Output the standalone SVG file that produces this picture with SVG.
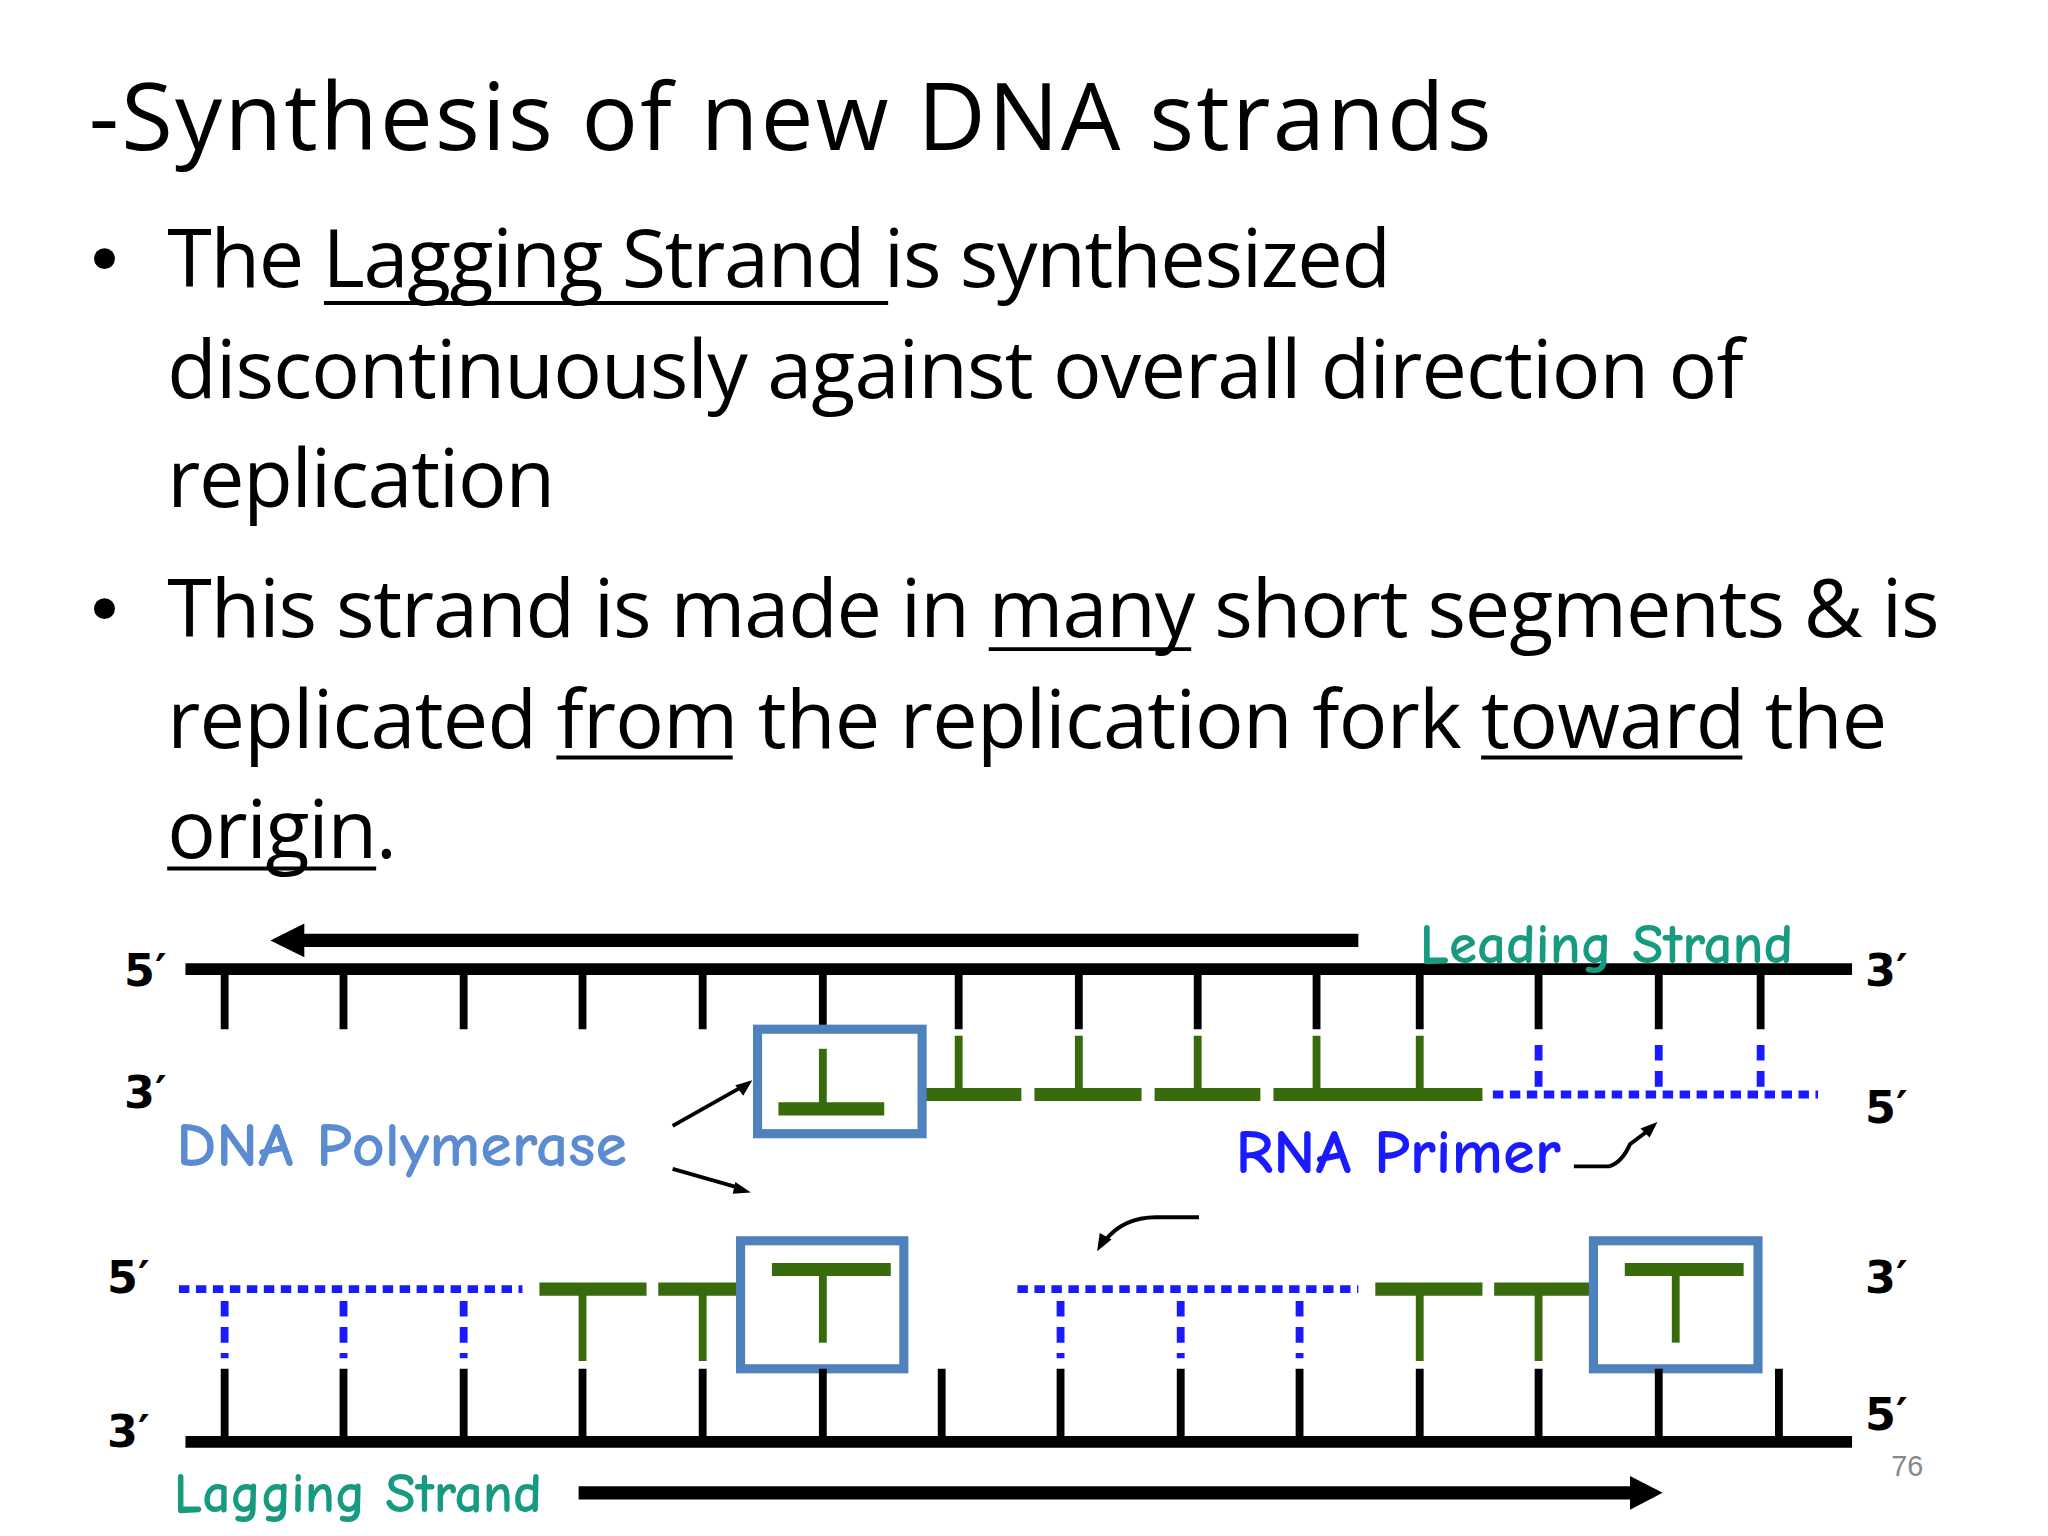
<svg xmlns="http://www.w3.org/2000/svg" width="2048" height="1536" viewBox="0 0 2048 1536">
<style>
.t{font-family:"Open Sans","Liberation Sans",sans-serif;fill:#000}
.c{font-family:"Comic Neue","DejaVu Sans",sans-serif;font-weight:bold}
.lab{font-family:"DejaVu Sans",sans-serif;font-weight:bold;font-size:34px}
.k{stroke:#000;stroke-width:6}
.g{stroke:#386b0b;stroke-width:6}
.gb{stroke:#386b0b;stroke-width:10}
.bd{stroke:#1a1aff;stroke-width:6;stroke-dasharray:8 5}
.bv{stroke:#1a1aff;stroke-width:6;stroke-dasharray:12 8}
.box{fill:#fff;stroke:#4f81bd;stroke-width:7}
.ul{stroke:#000;stroke-width:3}
</style>
<rect width="2048" height="1536" fill="#fff"/>
<g transform="scale(1.3061)">
<g id="text">
<text class="t" x="68" y="115" font-size="72" textLength="1074">-Synthesis of new DNA strands</text>
<circle cx="80" cy="198" r="8"/><circle cx="80" cy="466" r="8"/>
<g font-size="62">
<text class="t" x="128" y="220" textLength="937">The Lagging Strand is synthesized</text>
<text class="t" x="128" y="305" textLength="1207">discontinuously against overall direction of</text>
<text class="t" x="128" y="388" textLength="297">replication</text>
<text class="t" x="128" y="488" textLength="1357">This strand is made in many short segments &amp; is</text>
<text class="t" x="128" y="573" textLength="1317">replicated from the replication fork toward the</text>
<text class="t" x="128" y="657" textLength="176">origin.</text>
</g>
<line class="ul" x1="248" y1="232" x2="680" y2="232"/>
<line class="ul" x1="757" y1="497" x2="912" y2="497"/>
<line class="ul" x1="426" y1="580" x2="561" y2="580"/>
<line class="ul" x1="1134" y1="580" x2="1334" y2="580"/>
<line class="ul" x1="128" y1="665" x2="288" y2="665"/>
</g>
<g id="connectors" fill="none">
<line x1="1040" y1="720" x2="228" y2="720" stroke="#000" stroke-width="10"/>
<polygon points="207,720 233,707 233,733" fill="#000"/>
<line x1="443" y1="1143" x2="1252" y2="1143" stroke="#000" stroke-width="10"/>
<polygon points="1273,1143 1248,1130 1248,1156" fill="#000"/>
<line x1="515" y1="862" x2="570" y2="831" stroke="#000" stroke-width="3"/>
<polygon points="576,827 563,831 569,839" fill="#000"/>
<line x1="515" y1="895" x2="568" y2="910" stroke="#000" stroke-width="3"/>
<polygon points="575,913 563,905 561,914" fill="#000"/>
<path d="M1205,893 H1232 Q1242,890 1248,876 L1264,864" stroke="#000" stroke-width="3"/>
<polygon points="1269,859 1256,864 1263,871" fill="#000"/>
<path d="M918,932 H885 Q860,932 846,950" stroke="#000" stroke-width="3"/>
<polygon points="840,958 842,944 851,949" fill="#000"/>
</g>
<g id="top-strand">
<line x1="142" y1="742" x2="1418" y2="742" stroke="#000" stroke-width="9"/>
<path class="k" d="M172,742V788M263,742V788M355,742V788M446,742V788M538,742V788M630,742V788M734,742V788M826,742V788M917,742V788M1008,742V788M1087,742V788M1178,742V788M1270,742V788M1348,742V788"/>
</g>
<g id="leading-new">
<path class="gb" d="M708,838H782M792,838H874M884,838H965M975,838H1135"/>
<path class="g" d="M734,793V838M826,793V838M917,793V838M1008,793V838M1087,793V838"/>
<line class="bd" x1="1143" y1="838" x2="1392" y2="838"/>
<path class="bv" d="M1178,800V832M1270,800V832M1348,800V832"/>
</g>
<g id="pol1"><rect class="box" x="580" y="788" width="126" height="80"/>
<path class="g" d="M630,803V848"/><path class="gb" d="M596,849H677"/></g>
<g id="lag-left">
<line class="bd" x1="137" y1="987" x2="400" y2="987"/>
<path class="gb" d="M413,987H495M504,987H565"/>
<path class="g" d="M446,987V1042M538,987V1042"/>
<path class="bv" d="M172,996V1040M263,996V1040M355,996V1040"/>
</g>
<g id="pol2"><rect class="box" x="567" y="950" width="125" height="98"/>
<path class="gb" d="M591,972H682"/><path class="g" d="M630,972V1028"/></g>
<g id="lag-right">
<line class="bd" x1="779" y1="987" x2="1040" y2="987"/>
<path class="gb" d="M1053,987H1135M1144,987H1218"/>
<path class="g" d="M1087,987V1042M1178,987V1042"/>
<path class="bv" d="M812,996V1040M904,996V1040M995,996V1040"/>
</g>
<g id="pol3"><rect class="box" x="1220" y="950" width="126" height="98"/>
<path class="gb" d="M1244,972H1335"/><path class="g" d="M1283,972V1028"/></g>
<g id="bottom-strand">
<line x1="142" y1="1104" x2="1418" y2="1104" stroke="#000" stroke-width="9"/>
<path class="k" d="M172,1104V1048M263,1104V1048M355,1104V1048M446,1104V1048M538,1104V1048M630,1104V1048M721,1104V1048M812,1104V1048M904,1104V1048M995,1104V1048M1087,1104V1048M1178,1104V1048M1270,1104V1048M1362,1104V1048"/>
</g>
<g id="labels">
<text class="c" x="1087" y="737" font-size="44" fill="#169a80" textLength="286" lengthAdjust="spacingAndGlyphs">Leading Strand</text>
<text class="c" x="133" y="1158" font-size="44" fill="#169a80" textLength="282" lengthAdjust="spacingAndGlyphs">Lagging Strand</text>
<text class="c" x="135" y="893" font-size="48" fill="#5b8bd0" textLength="345" lengthAdjust="spacingAndGlyphs">DNA Polymerase</text>
<text class="c" x="946" y="898" font-size="48" fill="#1a1aff" textLength="249" lengthAdjust="spacingAndGlyphs">RNA Primer</text>
<text class="lab" x="95" y="755">5′</text><text class="lab" x="1428" y="755">3′</text>
<text class="lab" x="95" y="848">3′</text><text class="lab" x="1428" y="860">5′</text>
<text class="lab" x="82" y="990">5′</text><text class="lab" x="1428" y="990">3′</text>
<text class="lab" x="82" y="1108">3′</text><text class="lab" x="1428" y="1095">5′</text>
<text x="1448" y="1130" font-family="Liberation Sans,sans-serif" font-size="22" fill="#888">76</text>
</g>
</g>
</svg>
